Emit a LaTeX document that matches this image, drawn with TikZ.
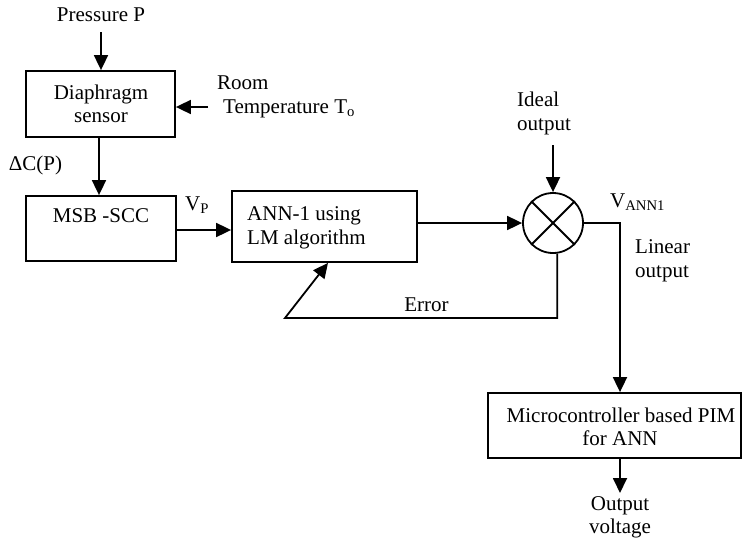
\documentclass[tikz,border=0pt]{standalone}
\usepackage{fontspec}
\setmainfont{Liberation Serif}
\usetikzlibrary{arrows.meta,calc}
\begin{document}
\begin{tikzpicture}[x=1pt,y=-1pt,
  blk/.style={draw,line width=1.8pt,rectangle,inner sep=0pt},
  sumc/.style={draw,line width=1.8pt,circle,inner sep=0pt,minimum size=60pt},
  txt/.style={font=\fontsize{21}{24}\selectfont,inner sep=0pt,anchor=base},
  txtl/.style={txt,anchor=base west},
  arr/.style={line width=1.8pt,-{Triangle[length=15pt,width=14pt]}},
  ln/.style={line width=1.8pt}]
\useasboundingbox (0,0) rectangle (742,544);
% blocks
\node[blk,minimum width=149pt,minimum height=66pt] (diap) at (100.5,104) {};
\node[blk,minimum width=150pt,minimum height=65pt] (msb) at (101,228.5) {};
\node[blk,minimum width=185pt,minimum height=71pt] (ann) at (324.5,226.5) {};
\node[sumc] (sum) at (553,223) {};
\node[blk,minimum width=253pt,minimum height=65pt] (micro) at (614.5,425.5) {};
\draw[ln] (sum.45) -- (sum.225) (sum.135) -- (sum.-45);
% texts
\node[txt] (tp) at (101,21) {Pressure P};
\node[txt] (td1) at (101,99) {Diaphragm};
\node[txt] (td2) at (101,122) {sensor};
\node[txtl] (tr1) at (217,89) {Room};
\node[txtl] (tr2) at (223,113) {Temperature T\textsubscript{o}};
\node[txt] (tdc) at (35.5,170) {ΔC(P)};
\node[txt] (tmsb) at (101,222) {MSB -SCC};
\node[txtl] (tvp) at (185,210) {V\textsubscript{P}};
\node[txtl] (ta1) at (247,220) {ANN-1 using};
\node[txtl] (ta2) at (247,244) {LM algorithm};
\node[txtl] (ti1) at (517,106) {Ideal};
\node[txtl] (ti2) at (517,130) {output};
\node[txtl] (tva) at (610,207) {V\textsubscript{ANN1}};
\node[txtl] (tl1) at (635,253) {Linear};
\node[txtl] (tl2) at (635,277) {output};
\node[txt] (terr) at (426.5,311) {Error};
\node[txt] (tm1) at (621,422) {Microcontroller based PIM};
\node[txt] (tm2) at (620,445) {for ANN};
\node[txt] (to1) at (620,510) {Output};
\node[txt] (to2) at (620,533) {voltage};
% connectors
\coordinate (pin) at (101,32);
\draw[arr] (pin) -- (pin |- diap.north);
\coordinate (tin) at (208,107);
\draw[arr] (tin) -- (tin -| diap.east);
\coordinate (d1) at (99,0);
\draw[arr] (d1 |- diap.south) -- (d1 |- msb.north);
\coordinate (v1) at (0,230);
\draw[arr] (v1 -| msb.east) -- (v1 -| ann.west);
\draw[arr] (sum.west -| ann.east) -- (sum.west);
\coordinate (iin) at (553,145);
\draw[arr] (iin) -- (sum.north);
\coordinate (oc) at (620,223);
\draw[arr] (sum.east) -- (oc) -- (oc |- micro.north);
\coordinate (e1) at (285,318);
\coordinate (ex) at (328,0);
\draw[arr] (sum.-82) |- (e1) -- (ex |- ann.south);
\coordinate (ov) at (620,493);
\draw[arr] (ov |- micro.south) -- (ov);
\end{tikzpicture}
\end{document}
